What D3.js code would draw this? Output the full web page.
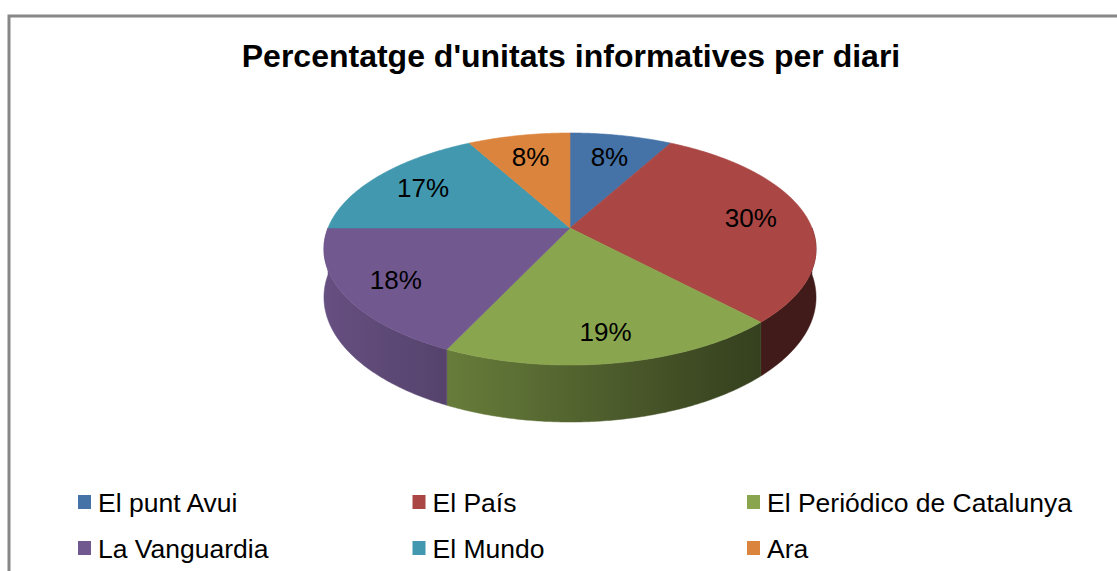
<!DOCTYPE html>
<html>
<head>
<meta charset="utf-8">
<script src="https://cdn.jsdelivr.net/npm/d3@7"></script>
<style>
  body { margin: 0; background: #fff; }
  svg { display: block; font-family: "Liberation Sans", Arial, sans-serif; }
</style>
</head>
<body>
<svg id="chart" width="1117" height="571"></svg>
<script>
// data
var diaris = ["El punt Avui", "El País", "El Periódico de Catalunya", "La Vanguardia", "El Mundo", "Ara"];
var percentatges = [8, 30, 19, 18, 17, 8];
var colors = ["#4572A7", "#AA4643", "#89A54E", "#71588F", "#4198AF", "#DB843D"];

var title = "Percentatge d'unitats informatives per diari";

var svg = d3.select("#chart");

// frame
svg.append("rect")
  .attr("x", 9).attr("y", 16)
  .attr("width", 1300).attr("height", 800)
  .attr("fill", "#fff")
  .attr("stroke", "#878787")
  .attr("stroke-width", 3);

svg.append("text")
  .attr("x", 571).attr("y", 67)
  .attr("text-anchor", "middle")
  .style("font-size", "32px")
  .style("font-weight", "bold")
  .text(title);

// 3d pie geometry (simple perspective)
var cx = 570, cy = 228;
var A = 242, B = 112.2;   // radii
var k = 0.181;            // perspective
var depth = 46.7;         // wall height

function proj(theta, rf, drop) {
  var u = rf * Math.sin(theta), v = rf * Math.cos(theta);
  var w = 1 + k * v;
  return [cx + A * u / w, cy - B * v / w + (drop || 0) / w];
}

var color = d3.scaleOrdinal().domain(diaris).range(colors);

var pie = d3.pie().sort(null).value(function (d, i) { return percentatges[i]; });
var arcs = pie(diaris);

var line = d3.line();
var step = Math.PI / 360;

// shading of the side wall, darker to the right
var x0 = 325, x1 = 818;
var shade = d3.scaleLinear().domain([325, 760]).range([0.9, 0.38]).clamp(true);

function darker(c, f) {
  var r = d3.rgb(c);
  return d3.rgb(r.r * f, r.g * f, r.b * f).toString();
}

var defs = svg.append("defs");
arcs.forEach(function (a, i) {
  var g = defs.append("linearGradient")
    .attr("id", "wall" + i)
    .attr("gradientUnits", "userSpaceOnUse")
    .attr("x1", x0).attr("y1", 0).attr("x2", x1).attr("y2", 0);
  d3.range(0, 1.0001, 0.1).forEach(function (o) {
    g.append("stop")
      .attr("offset", o)
      .attr("stop-color", darker(color(a.data), shade(x0 + o * (x1 - x0))));
  });
});

// walls of the near half, far to near
var wallArcs = arcs.map(function (a, i) {
  return {
    i: i,
    t0: Math.max(a.startAngle, Math.PI / 2),
    t1: Math.min(a.endAngle, Math.PI * 1.5)
  };
}).filter(function (s) { return s.t1 > s.t0; });

svg.append("g").attr("class", "walls")
  .selectAll("path")
  .data(wallArcs)
  .enter().append("path")
  .attr("d", function (s) {
    var topPts = [], botPts = [];
    for (var t = s.t0; t < s.t1; t += step) {
      topPts.push(proj(t, 1, 0));
      botPts.push(proj(t, 1, depth));
    }
    topPts.push(proj(s.t1, 1, 0));
    botPts.push(proj(s.t1, 1, depth));
    return line(topPts.concat(botPts.reverse())) + "Z";
  })
  .attr("fill", function (s) { return "url(#wall" + s.i + ")"; })
  .attr("stroke", function (s) { return "url(#wall" + s.i + ")"; })
  .attr("stroke-width", 0.5);

// top faces
svg.append("g").attr("class", "tops")
  .selectAll("path")
  .data(arcs)
  .enter().append("path")
  .attr("d", function (a) {
    var pts = [[cx, cy]];
    for (var t = a.startAngle; t < a.endAngle; t += step) pts.push(proj(t, 1, 0));
    pts.push(proj(a.endAngle, 1, 0));
    return line(pts) + "Z";
  })
  .attr("fill", function (a) { return color(a.data); })
  .attr("stroke", function (a) { return color(a.data); })
  .attr("stroke-width", 0.6);

// labels
svg.append("g").selectAll("text")
  .data(arcs)
  .enter().append("text")
  .attr("x", function (a) {
    var p = proj((a.startAngle + a.endAngle) / 2, 1, 0);
    return cx + 0.77 * (p[0] - cx);
  })
  .attr("y", function (a) {
    var p = proj((a.startAngle + a.endAngle) / 2, 1, 0);
    return cy + 0.77 * (p[1] - cy);
  })
  .attr("dy", "0.36em")
  .attr("text-anchor", "middle")
  .style("font-size", "26px")
  .attr("fill", "#000")
  .text(function (a, i) { return percentatges[i] + "%"; });

// legend
var legend = svg.append("g").selectAll("g")
  .data(diaris)
  .enter().append("g")
  .attr("transform", function (d, i) {
    return "translate(" + (78 + (i % 3) * 334.5) + "," + (495 + Math.floor(i / 3) * 46) + ")";
  });

legend.append("rect")
  .attr("width", 13).attr("height", 14)
  .attr("fill", function (d) { return color(d); });

legend.append("text")
  .attr("x", 20).attr("y", 16.5)
  .style("font-size", "26.5px")
  .attr("fill", "#000")
  .text(function (d) { return d; });
</script>
</body>
</html>
